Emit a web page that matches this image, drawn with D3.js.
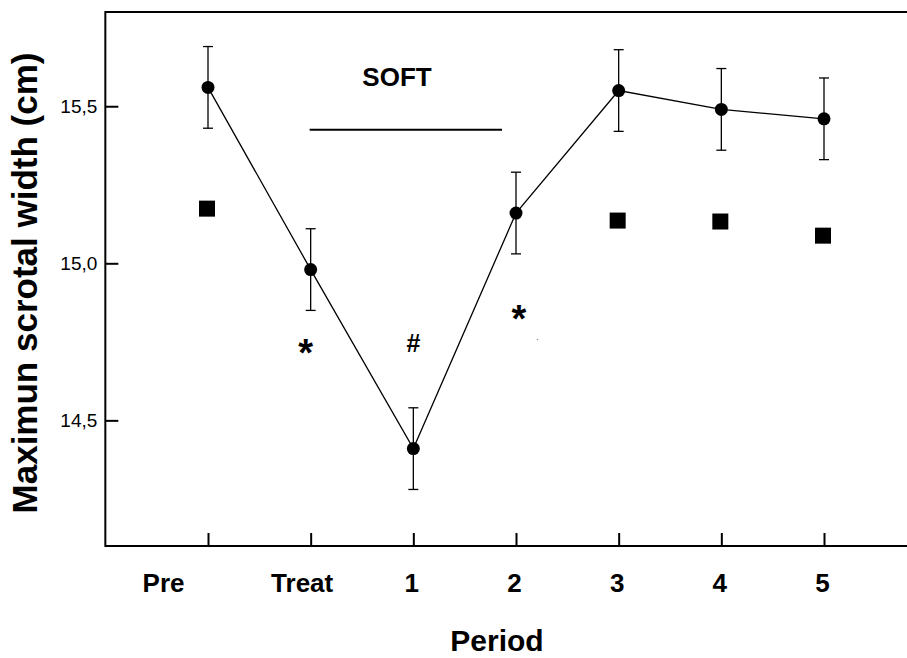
<!DOCTYPE html>
<html><head><meta charset="utf-8">
<script src="https://cdn.jsdelivr.net/npm/d3@7"></script>
<style>body{margin:0;background:#fff}svg{display:block}text{font-family:Arial,"Liberation Sans",Helvetica,sans-serif}</style>
</head><body>
<svg id="c" width="907" height="658"></svg>
<script>
const categories = ["Pre","Treat","1","2","3","4","5"];
const meanValues = [15.56,14.98,14.41,15.16,15.55,15.49,15.46];
const errValues  = [0.13,0.13,0.13,0.13,0.13,0.13,0.13];
const controlCats = ["Pre","3","4","5"];
const controlValues = [15.174,15.136,15.133,15.088];
const yTicks = [14.5,15.0,15.5];
const yTickLabels = ["14,5","15,0","15,5"];
const marks = [{cat:"Treat",v:14.75,t:"*"},{cat:"1",v:14.745,t:"#"},{cat:"2",v:14.86,t:"*"}];
const barLabel = "SOFT";
const barRange = ["Treat","2"];

const svg = d3.select("#c");
const idx = d3.scaleOrdinal().domain(categories).range(d3.range(categories.length));
const x = d3.scaleLinear().domain([0,6]).range([208,824]);
const xc = c => x(idx(c));
const y = d3.scaleLinear().domain([14.1,15.8]).range([546,12]);
const left = x(-1), right = 907;

// frame
svg.append("line").attr("x1",left).attr("x2",right).attr("y1",y(15.8)).attr("y2",y(15.8)).attr("stroke","#000").attr("stroke-width",2);
svg.append("line").attr("x1",left).attr("x2",right).attr("y1",y(14.1)).attr("y2",y(14.1)).attr("stroke","#000").attr("stroke-width",2);
svg.append("line").attr("x1",left).attr("x2",left).attr("y1",y(15.8)-1).attr("y2",y(14.1)+1).attr("stroke","#000").attr("stroke-width",2);

// x axis
const xAxis = d3.axisBottom(x).tickValues(d3.range(categories.length)).tickSizeInner(-13).tickSizeOuter(0).tickPadding(28).tickFormat(i=>categories[i]);
const gx = svg.append("g").attr("transform",`translate(0,${y(14.1)})`).call(xAxis);
gx.select(".domain").remove();
gx.selectAll(".tick line").attr("stroke","#000").attr("stroke-width",2);
const labShift = {"Pre":-45,"Treat":-9};
gx.selectAll(".tick text").attr("font-size",26).attr("font-weight","bold").attr("fill","#000")
  .attr("dx",i=>(labShift[categories[i]]||-2));

// y axis
const yAxis = d3.axisLeft(y).tickValues(yTicks).tickSizeInner(-13).tickSizeOuter(0).tickPadding(8)
  .tickFormat((d,i)=>yTickLabels[i]);
const gy = svg.append("g").attr("transform",`translate(${left},0)`).call(yAxis);
gy.select(".domain").remove();
gy.selectAll(".tick line").attr("stroke","#000").attr("stroke-width",2);
gy.selectAll(".tick text").attr("font-size",19).attr("fill","#000");

// titles
svg.append("text").attr("x",497).attr("y",651).attr("text-anchor","middle").attr("font-size",30).attr("font-weight","bold").text("Period");
svg.append("text").attr("transform","translate(37,283) rotate(-90)").attr("text-anchor","middle").attr("font-size",35).attr("font-weight","bold").text("Maximun scrotal width (cm)");

// SOFT bar
svg.append("line").attr("x1",xc(barRange[0])-1).attr("x2",xc(barRange[1])-14).attr("y1",y(15.425)).attr("y2",y(15.425)).attr("stroke","#000").attr("stroke-width",2);
svg.append("text").attr("x",397).attr("y",y(15.56)-1).attr("text-anchor","middle").attr("font-size",26).attr("font-weight","bold").text(barLabel);

// error bars
const g = svg.append("g");
categories.forEach((c,i)=>{
  const cx = xc(c);
  g.append("line").attr("x1",cx).attr("x2",cx).attr("y1",y(meanValues[i]+errValues[i])).attr("y2",y(meanValues[i]-errValues[i])).attr("stroke","#000").attr("stroke-width",1.3);
  [meanValues[i]+errValues[i], meanValues[i]-errValues[i]].forEach(v=>{
    g.append("line").attr("x1",cx-5).attr("x2",cx+5).attr("y1",y(v)).attr("y2",y(v)).attr("stroke","#000").attr("stroke-width",1.3);
  });
});
// line
const line = d3.line().x((d,i)=>xc(categories[i])).y(d=>y(d));
svg.append("path").datum(meanValues).attr("d",line).attr("fill","none").attr("stroke","#000").attr("stroke-width",1.3);
svg.selectAll("circle.m").data(meanValues).join("circle").attr("class","m")
  .attr("cx",(d,i)=>xc(categories[i])).attr("cy",d=>y(d)).attr("r",6.5).attr("fill","#000");
// control squares
svg.selectAll("rect.s").data(controlValues).join("rect").attr("class","s")
  .attr("x",(d,i)=>xc(controlCats[i])-8-1).attr("y",d=>y(d)-8).attr("width",16).attr("height",16).attr("fill","#000");

// significance marks
marks.forEach(m=>{
  svg.append("text").attr("x",xc(m.cat)-5+(m.t==="#"?5:0)+(m.cat==="2"?8:0)).attr("y",y(m.v)).attr("text-anchor","middle")
    .attr("dominant-baseline","central")
    .attr("font-size",m.t==="#"?25:38).attr("font-weight","bold").attr("dy",m.t==="*"?"0.3em":"0").text(m.t);
});
svg.append("circle").attr("cx",537.5).attr("cy",339.5).attr("r",0.7).attr("fill","#888");
</script>
</body></html>
